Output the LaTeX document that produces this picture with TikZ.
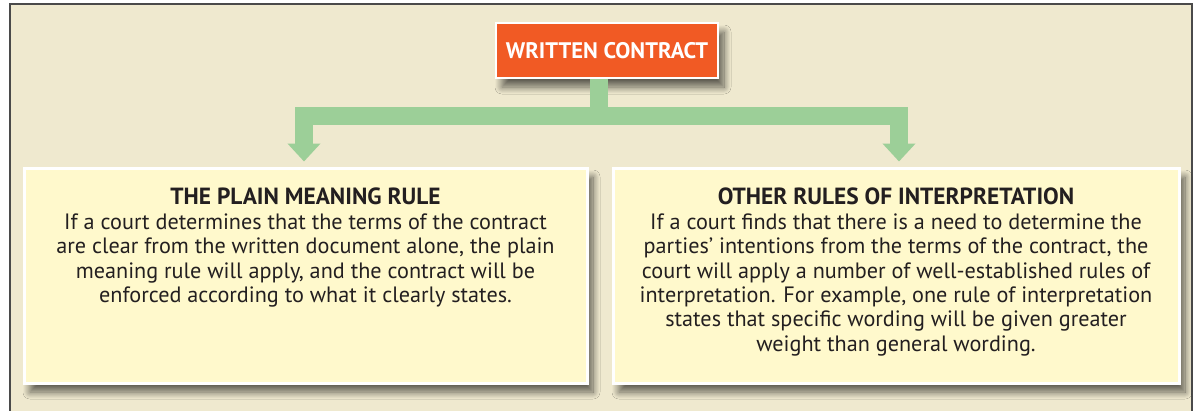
\documentclass[tikz,border=0pt]{standalone}
\usepackage{fontspec}
\setmainfont{PT Sans}
\usetikzlibrary{arrows.meta,shadows.blur}
\definecolor{paper}{HTML}{EFE9CF}
\definecolor{panel}{HTML}{FFF9CC}
\definecolor{flame}{HTML}{F15A24}
\definecolor{leaf}{HTML}{9CCF98}
\definecolor{ink}{HTML}{231F20}
\definecolor{rim}{HTML}{4A4A4A}
\newcommand\ruletitle{\bfseries\fontsize{23.4}{24.4}\selectfont}
\tikzset{
  softshadow/.style={blur shadow={shadow xshift=6pt,shadow yshift=-9pt,
      shadow blur radius=7pt,shadow opacity=60,shadow blur steps=12}},
  headbox/.style={rectangle,fill=flame,draw=white,line width=2.5pt,
      minimum width=222pt,minimum height=55pt,inner sep=0pt,
      text=white,font=\bfseries\fontsize{22.5}{24}\selectfont,softshadow},
  rulebox/.style={rectangle,fill=panel,draw=white,line width=3pt,
      minimum height=215pt,inner sep=0pt,softshadow},
  bodytext/.style={align=center,inner sep=0pt,text=ink,anchor=north,
      font=\fontsize{22.2}{24.4}\selectfont},
  conn/.style={draw=leaf,line width=18pt,line join=miter,
      -{Triangle[width=32pt,length=18pt]}},
}
\begin{document}
\begin{tikzpicture}[x=1pt,y=-1pt]
  \useasboundingbox (0,0) rectangle (1196,410);
  % page frame
  \fill[paper] (10,4) rectangle (1192,412);
  \draw[rim,line width=2pt] (10,412) -- (10,4) -- (1192,4) -- (1192,412);

  % boxes
  \node[headbox] (wc) at (607,50.5) {WRITTEN CONTRACT};
  \node[rulebox,minimum width=563pt] (pm) at (305.5,275.5) {};
  \node[rulebox,minimum width=566pt] (oi) at (896,275.5) {};

  % connectors
  \draw[conn] ([xshift=-8.5pt]wc.south) -- ++(0,37)
      -| ([xshift=-1.5pt,yshift=5pt]pm.north);
  \draw[conn] ([xshift=-8.5pt]wc.south) -- ++(0,37)
      -| ([xshift=3pt,yshift=5pt]oi.north);

  % texts
  \node[bodytext] (pmt) at ([yshift=-21.5pt]pm.north)
    {{\ruletitle THE PLAIN MEANING RULE}\\
     If a court determines that the terms of the contract\\
     are clear from the written document alone, the plain\\
     meaning rule will apply, and the contract will be\\
     enforced according to what it clearly states.};
  \node[bodytext] (oit) at ([yshift=-21.5pt]oi.north)
    {{\ruletitle OTHER RULES OF INTERPRETATION}\\
     If a court finds that there is a need to determine the\\
     parties’ intentions from the terms of the contract, the\\
     court will apply a number of well-established rules of\\
     interpretation. For example, one rule of interpretation\\
     states that specific wording will be given greater\\
     weight than general wording.};
\end{tikzpicture}
\end{document}
